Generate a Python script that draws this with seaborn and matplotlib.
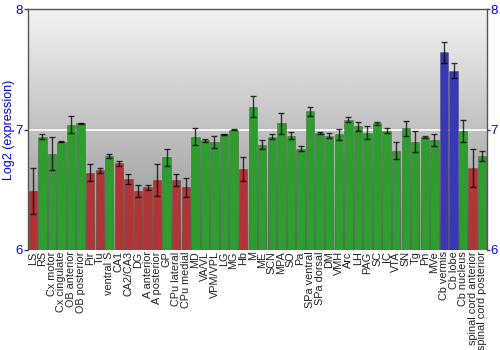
import numpy as np
import pandas as pd
import matplotlib
matplotlib.use("Agg")
import matplotlib.pyplot as plt
import seaborn as sns

regions = ["LS", "RS", "Cx motor", "Cx cingulate", "OB anterior", "OB posterior", "Pir", "Tu",
           "ventral S", "CA1", "CA2/CA3", "DG", "A anterior", "A posterior", "GP", "CPu lateral",
           "CPu medial", "MD", "VA/VL", "VPM/VPL", "LG", "MG", "Hb", "M", "ME", "SCN", "MPA", "SO",
           "Pa", "SPa ventral", "SPa dorsal", "DM", "VMH", "Arc", "LH", "PAG", "SC", "IC", "VTA",
           "SN", "Tg", "Pn", "MVe", "Cb vermis", "Cb lobe", "Cb nucleus", "spinal cord anterior",
           "spinal cord posterior"]
values = [6.49, 6.94, 6.80, 6.90, 7.04, 7.05, 6.64, 6.66, 6.78, 6.72, 6.59, 6.49, 6.52, 6.58,
          6.77, 6.58, 6.52, 6.94, 6.91, 6.90, 6.96, 7.00, 6.675, 7.19, 6.875, 6.94, 7.05, 6.95,
          6.84, 7.15, 6.97, 6.95, 6.96, 7.08, 7.025, 6.975, 7.05, 6.99, 6.825, 7.01, 6.90, 6.94,
          6.91, 7.64, 7.49, 6.99, 6.68, 6.78]
errors = [0.19, 0.02, 0.14, 0.005, 0.07, 0.005, 0.07, 0.02, 0.02, 0.02, 0.04, 0.05, 0.02, 0.13,
          0.07, 0.05, 0.08, 0.07, 0.01, 0.05, 0.005, 0.005, 0.10, 0.09, 0.04, 0.02, 0.09, 0.03,
          0.02, 0.04, 0.01, 0.02, 0.045, 0.02, 0.04, 0.05, 0.01, 0.02, 0.07, 0.06, 0.085, 0.01,
          0.05, 0.085, 0.065, 0.09, 0.16, 0.045]
groups = ["low", "mid", "mid", "mid", "mid", "mid", "low", "low", "mid", "low", "low", "low",
          "low", "low", "mid", "low", "low", "mid", "mid", "mid", "mid", "mid", "low", "mid",
          "mid", "mid", "mid", "mid", "mid", "mid", "mid", "mid", "mid", "mid", "mid", "mid",
          "mid", "mid", "mid", "mid", "mid", "mid", "mid", "high", "high", "mid", "low", "mid"]
yticks = [6, 7, 8]

palette = {"low": "#b03636", "mid": "#2f9c2f", "high": "#3838b4"}

df = pd.DataFrame({"region": regions, "value": values, "err": errors, "group": groups})

sns.set_style("white")
plt.rcParams['font.family'] = ['Liberation Sans', 'DejaVu Sans']

fig = plt.figure(figsize=(5, 3.5), dpi=100)
ax = fig.add_axes([0.056, 0.286, 0.918, 0.688])

# background gradient
grad = np.linspace(0.56, 0.95, 256).reshape(-1, 1)
ax.imshow(grad, extent=[-0.5, len(regions) - 0.5, 6, 8], aspect="auto", cmap="gray",
          vmin=0, vmax=1, origin="lower", zorder=0)
ax.axhline(7, color="white", lw=1.2, zorder=1)

sns.barplot(data=df, x="region", y="value", hue="group", palette=palette, dodge=False,
            width=0.88, legend=False, ax=ax, zorder=2, saturation=1)
xs = np.arange(len(regions))
for bar in ax.patches:
    bar.set_edgecolor((0, 0, 0, 0.25))
    bar.set_linewidth(0.6)
ax.errorbar(xs, df["value"], yerr=df["err"], fmt="none", ecolor="black", elinewidth=1,
            capsize=2, capthick=1, alpha=0.75, zorder=3)

ax.set_xlim(-0.5, len(regions) - 0.5)
ax.set_ylim(6, 8)
ax.set_yticks(yticks)
ax.set_yticklabels([str(t) for t in yticks], color="blue", fontsize=9.5)
ax.set_ylabel("Log2 (expression)", color="blue", fontsize=9, labelpad=0)
ax.set_xlabel("")
ax.set_xticks(xs)
ax.set_xticklabels(regions, rotation=90, fontsize=7.8, color="#222222")
ax.tick_params(axis="x", length=0, pad=1)
ax.tick_params(axis="y", length=3, color="#444444", width=1, pad=1, direction="out", left=True)
for s in ["left", "right", "top"]:
    ax.spines[s].set_color("#555555")
    ax.spines[s].set_linewidth(1)
ax.spines["bottom"].set_visible(False)

ax2 = ax.twinx()
ax2.set_ylim(6, 8)
ax2.set_yticks(yticks)
ax2.set_yticklabels([str(t) for t in yticks], color="blue", fontsize=9.5)
ax2.tick_params(axis="y", length=2, color="#444444", width=1, pad=0.5, direction="out", right=True)
for s in ["left", "right", "top", "bottom"]:
    ax2.spines[s].set_visible(False)

fig.savefig("out.png", dpi=100)
